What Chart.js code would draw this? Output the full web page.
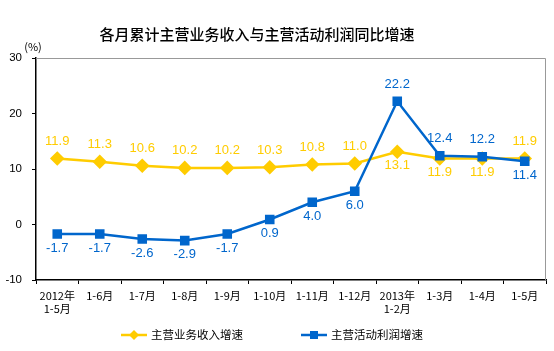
<!DOCTYPE html>
<html>
<head>
<meta charset="utf-8">
<script src="https://cdn.jsdelivr.net/npm/chart.js@4/dist/chart.umd.min.js"></script>
<style>
  html, body { margin: 0; padding: 0; background: #fff; }
  #wrap { width: 554px; height: 351px; }
</style>
</head>
<body>
<div id="wrap"><canvas id="lineCanvas" width="554" height="351"></canvas></div>
<script>
const categories = [
  ["2012年", "1-5月"], "1-6月", "1-7月", "1-8月", "1-9月", "1-10月",
  "1-11月", "1-12月", ["2013年", "1-2月"], "1-3月", "1-4月", "1-5月"
];
const revenueGrowth = [11.9, 11.3, 10.6, 10.2, 10.2, 10.3, 10.8, 11.0, 13.1, 11.9, 11.9, 11.9];
const profitGrowth = [-1.7, -1.7, -2.6, -2.9, -1.7, 0.9, 4.0, 6.0, 22.2, 12.4, 12.2, 11.4];
const seriesNames = ["主营业务收入增速", "主营活动利润增速"];
const yTicks = [-10, 0, 10, 20, 30];

const YELLOW = "#FFCC00";
const BLUE = "#0066CC";

// where each value label sits: 1 = above the point, -1 = below
const revenueLabelSide = [1, 1, 1, 1, 1, 1, 1, 1, -1, -1, -1, 1];
const profitLabelSide = [-1, -1, -1, -1, -1, -1, -1, -1, 1, 1, 1, -1];

const decorations = {
  id: "decorations",
  afterDraw(chart) {
    const ctx = chart.ctx;
    const a = chart.chartArea;
    ctx.save();

    // light frame on top and right
    ctx.strokeStyle = "#999";
    ctx.lineWidth = 1;
    ctx.beginPath();
    ctx.moveTo(a.left, a.top + 0.5);
    ctx.lineTo(a.right - 0.5, a.top + 0.5);
    ctx.lineTo(a.right - 0.5, a.bottom);
    ctx.stroke();

    // title
    ctx.fillStyle = "#000";
    ctx.font = "500 15px 'Noto Sans CJK SC'";
    ctx.textAlign = "center";
    ctx.textBaseline = "middle";
    ctx.fillText("各月累计主营业务收入与主营活动利润同比增速", 257, 34);

    // unit
    ctx.font = "11px 'Noto Sans CJK SC'";
    ctx.fillText("(%)", 33, 47);

    // value labels
    ctx.font = "13px 'Liberation Sans', Arial";
    const sets = [
      { idx: 1, color: YELLOW, side: revenueLabelSide, values: revenueGrowth },
      { idx: 0, color: BLUE, side: profitLabelSide, values: profitGrowth }
    ];
    sets.forEach(s => {
      const meta = chart.getDatasetMeta(s.idx);
      ctx.fillStyle = s.color;
      meta.data.forEach((pt, i) => {
        const dy = s.side[i] > 0 ? -17 : 14;
        ctx.fillText(s.values[i].toFixed(1), pt.x, pt.y + dy);
      });
    });

    // legend
    const ly = 335;
    const items = [
      { x: 121, color: YELLOW, style: "diamond", text: seriesNames[0] },
      { x: 301, color: BLUE, style: "square", text: seriesNames[1] }
    ];
    items.forEach(it => {
      ctx.strokeStyle = it.color;
      ctx.fillStyle = it.color;
      ctx.lineWidth = 2.5;
      ctx.beginPath();
      ctx.moveTo(it.x, ly);
      ctx.lineTo(it.x + 26, ly);
      ctx.stroke();
      const cx = it.x + 13;
      ctx.beginPath();
      if (it.style === "diamond") {
        ctx.moveTo(cx, ly - 5); ctx.lineTo(cx + 5, ly);
        ctx.lineTo(cx, ly + 5); ctx.lineTo(cx - 5, ly);
        ctx.closePath(); ctx.fill();
      } else {
        ctx.fillRect(cx - 4, ly - 4, 8, 8);
      }
      ctx.fillStyle = "#000";
      ctx.textAlign = "left";
      ctx.font = "11.5px 'Noto Sans CJK SC'";
      ctx.fillText(it.text, it.x + 30, ly);
    });
    ctx.restore();
  }
};

const data = {
  labels: categories,
  datasets: [
    {
      label: seriesNames[1],
      data: profitGrowth,
      borderColor: BLUE,
      backgroundColor: BLUE,
      borderWidth: 2.5,
      pointStyle: "rect",
      pointRadius: 5,
      tension: 0,
      order: 0
    },
    {
      label: seriesNames[0],
      data: revenueGrowth,
      borderColor: YELLOW,
      backgroundColor: YELLOW,
      borderWidth: 2.5,
      pointStyle: "rectRot",
      pointRadius: 5.5,
      tension: 0,
      order: 1
    }
  ]
};

const config = {
  type: "line",
  data: data,
  options: {
    responsive: false,
    animation: false,
    layout: { padding: { top: 58, right: 6, bottom: 31, left: 0 } },
    plugins: {
      legend: { display: false },
      title: { display: false },
      tooltip: { enabled: false }
    },
    scales: {
      x: {
        offset: true,
        grid: { display: true, offset: true, drawOnChartArea: false, drawTicks: true, tickLength: 4, color: "#000" },
        border: { display: true, color: "#000", width: 1.5 },
        ticks: {
          color: "#000",
          padding: 5,
          maxRotation: 0,
          autoSkip: false,
          font: { family: "'Noto Sans CJK SC'", size: 11 }
        },
        afterFit(scale) { scale.height = 40; }
      },
      y: {
        min: -10,
        max: 30,
        afterBuildTicks(scale) { scale.ticks = yTicks.map(v => ({ value: v })); },
        grid: { display: true, drawOnChartArea: false, drawTicks: true, tickLength: 4, color: "#000" },
        border: { display: true, color: "#000", width: 1.5 },
        ticks: {
          color: "#000",
          padding: 10,
          font: { family: "'Liberation Sans', Arial", size: 11.5 }
        },
        afterFit(scale) { scale.width = 36; }
      }
    }
  },
  plugins: [decorations]
};

const canvas = document.getElementById("lineCanvas");
if (canvas) {
  const ctx = canvas.getContext("2d");
  new Chart(ctx, config);
} else {
  console.error("no canvas");
}
</script>
</body>
</html>
